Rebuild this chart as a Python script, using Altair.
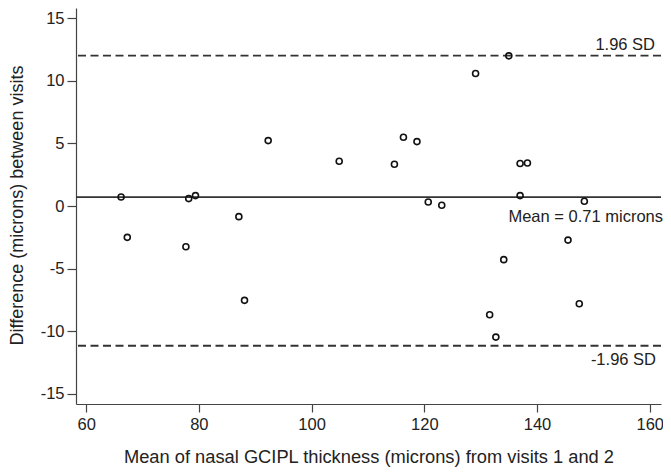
import altair as alt
import pandas as pd

# Bland-Altman data
mean_vals = [66.2, 67.3, 77.7, 78.2, 79.4, 87.1, 88.1, 92.3, 104.9, 114.7, 116.3, 118.7,
             120.7, 123.1, 129.1, 131.6, 132.7, 134.1, 135.0, 137.0, 137.0, 138.3,
             145.5, 147.5, 148.4]
diff_vals = [0.72, -2.5, -3.25, 0.59, 0.83, -0.85, -7.53, 5.22, 3.57, 3.33, 5.49, 5.14,
             0.32, 0.06, 10.57, -8.68, -10.46, -4.28, 11.98, 3.39, 0.83, 3.43,
             -2.72, -7.80, 0.38]

line_names = ["upper", "mean", "lower"]
line_vals = [12.0, 0.71, -11.15]
line_labels = ["1.96 SD", "Mean = 0.71 microns", "-1.96 SD"]
line_dash = [[8, 4.5], [1, 0], [8, 4.5]]
label_dx = [-6, 2, -5]
label_dy = [-11, 20, 14]

x_ticks = [60, 80, 100, 120, 140, 160]
y_ticks = [-15, -10, -5, 0, 5, 10, 15]

FONT = "Liberation Sans"
X_DOM = [58.2, 162]
Y_DOM = [-15.8, 15.8]

pts = pd.DataFrame({"m": mean_vals, "d": diff_vals})
lines = pd.DataFrame({"name": line_names, "v": line_vals, "label": line_labels,
                      "dx": label_dx, "dy": label_dy})

xscale = alt.Scale(domain=X_DOM, nice=False, zero=False)
yscale = alt.Scale(domain=Y_DOM, nice=False, zero=False)

xaxis = alt.Axis(values=x_ticks, grid=False, title="Mean of nasal GCIPL thickness (microns) from visits 1 and 2",
                 tickSize=8, labelPadding=4, labelFont=FONT, labelFontSize=16.5, labelColor="#222",
                 labelExpr="'' + datum.value",
                 titleFont=FONT, titleFontSize=18.3, titleFontWeight="normal", titleColor="#222",
                 titleY=53, titleBaseline="middle", domainColor="#444", tickColor="#444",
                 domainWidth=1.2, tickWidth=1.2)
yaxis = alt.Axis(values=y_ticks, grid=False, title="Difference (microns) between visits",
                 tickSize=9, labelPadding=3, labelFont=FONT, labelFontSize=16.5, labelColor="#222",
                 labelExpr="'' + datum.value",
                 titleFont=FONT, titleFontSize=18, titleFontWeight="normal", titleColor="#222",
                 titleX=-59, titleY=197, titleBaseline="middle", titleAlign="center",
                 domainColor="#444", tickColor="#444", domainWidth=1.2, tickWidth=1.2)

points = alt.Chart(pts).mark_point(shape="circle", filled=False, size=36, strokeWidth=1.6,
                                   color="#111", opacity=1).encode(
    x=alt.X("m:Q", scale=xscale, axis=xaxis),
    y=alt.Y("d:Q", scale=yscale, axis=yaxis),
)

rules = alt.layer(*[
    alt.Chart(lines[lines["name"] == n]).mark_rule(color="#333", strokeWidth=1.8 if n != "mean" else 1.6,
                                                   strokeDash=dash).encode(
        y=alt.Y("v:Q", scale=yscale)
    )
    for n, dash in zip(line_names, line_dash)
])

texts = alt.layer(*[
    alt.Chart(lines[lines["name"] == n]).mark_text(font=FONT, fontSize=16.5, color="#222", align="right",
                                                   baseline="middle", dx=dx, dy=dy).encode(
        x=alt.value(585),
        y=alt.Y("v:Q", scale=yscale),
        text="label:N",
    )
    for n, dx, dy in zip(line_names, label_dx, label_dy)
])

chart = alt.layer(rules, points, texts).properties(
    width=585, height=396,
    padding={"left": 68, "top": 0, "right": 2, "bottom": 67},
    autosize=alt.AutoSizeParams(type="none"),
    background="white",
).configure_view(stroke=None).configure_axisX(domain=True).configure_axisY(domain=True)

chart.save("out.html", embed_options={"renderer": "svg", "actions": False})
